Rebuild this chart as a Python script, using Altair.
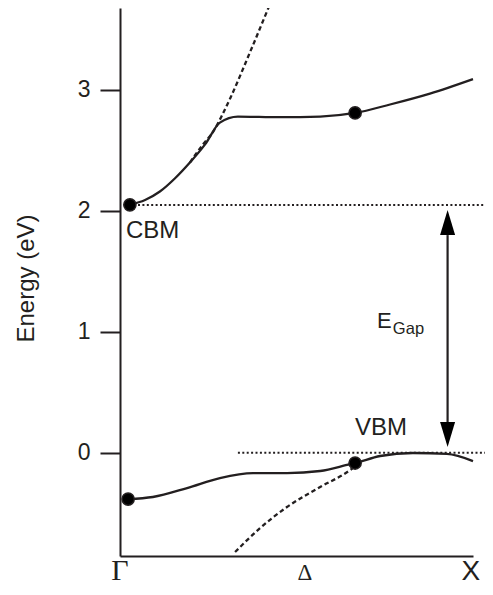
import altair as alt
import pandas as pd

# Path coordinate k: 0 = Gamma, 1 = X ; energies in eV
cb_k = [0.028, 0.071, 0.113, 0.156, 0.198, 0.241, 0.283, 0.334, 0.453, 0.567, 0.666, 0.765, 0.878, 1.000]
cb_e = [2.05, 2.09, 2.16, 2.27, 2.40, 2.55, 2.73, 2.78, 2.775, 2.78, 2.81, 2.88, 2.97, 3.09]

cb_dash_k = [0.198, 0.235, 0.263, 0.289, 0.312, 0.368, 0.422]
cb_dash_e = [2.40, 2.55, 2.65, 2.79, 2.93, 3.31, 3.69]

vb_k = [0.023, 0.093, 0.190, 0.283, 0.377, 0.473, 0.567, 0.652, 0.666, 0.737, 0.830, 0.926, 1.000]
vb_e = [-0.383, -0.366, -0.292, -0.209, -0.168, -0.168, -0.151, -0.094, -0.085, -0.027, -0.002, -0.010, -0.069]

vb_dash_k = [0.326, 0.397, 0.473, 0.567, 0.652, 0.671]
vb_dash_e = [-0.821, -0.623, -0.449, -0.284, -0.143, -0.10]

dot_k = [0.028, 0.666, 0.023, 0.666]
dot_e = [2.05, 2.81, -0.383, -0.085]

cbm_e = 2.049
vbm_e = 0.0
level_k_start = [0.051, 0.334]
level_k_end = [1.048, 1.048]
level_e = [cbm_e, vbm_e]

gap_k = 0.928

INK = "#231f20"
SANS = "Liberation Sans"
SERIF = "Liberation Serif"

xs = alt.Scale(domain=[0, 1], nice=False, zero=False)
ys = alt.Scale(domain=[-0.854, 3.678], nice=False, zero=False)

def line_df(k, e):
    return pd.DataFrame({"k": k, "E": e})

x_enc = alt.X("k:Q", scale=xs, axis=alt.Axis(domain=True, ticks=False, labels=False, grid=False,
                                               title=None, domainWidth=2, domainColor=INK))
y_enc = alt.Y("E:Q", scale=ys, axis=alt.Axis(values=[0, 1, 2, 3], format="d", grid=False,
                                               tickSize=20, tickWidth=2, tickColor=INK,
                                               domainWidth=2, domainColor=INK,
                                               labelFont=SANS, labelFontSize=23, labelColor=INK,
                                               labelPadding=10, title="Energy (eV)",
                                               titleFont=SANS, titleFontSize=24, titleFontWeight="normal",
                                               titleColor=INK, titleAngle=270, titleBaseline="alphabetic",
                                               titleAlign="center", titleX=-87, titleY=270))

cb = alt.Chart(line_df(cb_k, cb_e)).mark_line(color=INK, strokeWidth=2.3, interpolate="monotone").encode(x=x_enc, y=y_enc)
cbd = alt.Chart(line_df(cb_dash_k, cb_dash_e)).mark_line(color=INK, strokeWidth=2.3, strokeDash=[4.5, 3], interpolate="monotone").encode(x="k:Q", y="E:Q")
vb = alt.Chart(line_df(vb_k, vb_e)).mark_line(color=INK, strokeWidth=2.3, interpolate="monotone").encode(x="k:Q", y="E:Q")
vbd = alt.Chart(line_df(vb_dash_k, vb_dash_e)).mark_line(color=INK, strokeWidth=2.3, strokeDash=[4.5, 3], interpolate="monotone").encode(x="k:Q", y="E:Q")

levels = alt.Chart(pd.DataFrame({"k": level_k_start, "k2": level_k_end, "E": level_e})).mark_rule(
    color=INK, strokeWidth=2, strokeDash=[2, 2.4]).encode(x="k:Q", x2="k2:Q", y="E:Q")

shaft = alt.Chart(pd.DataFrame({"k": [gap_k], "E": [1.80], "E2": [0.25]})).mark_rule(
    color=INK, strokeWidth=2.2).encode(x="k:Q", y="E:Q", y2="E2:Q")
head_up = alt.Chart(pd.DataFrame({"k": [gap_k], "E": [1.904]})).mark_point(
    shape="M0,-1L0.6,1L-0.6,1Z", size=625, filled=True, color="black", opacity=1).encode(x="k:Q", y="E:Q")
head_dn = alt.Chart(pd.DataFrame({"k": [gap_k], "E": [0.150]})).mark_point(
    shape="M0,1L0.6,-1L-0.6,-1Z", size=625, filled=True, color="black", opacity=1).encode(x="k:Q", y="E:Q")

dots = alt.Chart(line_df(dot_k, dot_e)).mark_circle(size=150, color="black", opacity=1,
                                                     stroke=INK, strokeWidth=1.5).encode(x="k:Q", y="E:Q")

def label(text, k, e, size, font=SANS, align="left"):
    return alt.Chart(pd.DataFrame({"k": [k], "E": [e], "t": [text]})).mark_text(
        font=font, fontSize=size, align=align, baseline="alphabetic", color=INK).encode(
        x="k:Q", y="E:Q", text="t:N")

texts = [
    label("CBM", 0.017, 1.776, 24),
    label("VBM", 0.666, 0.146, 24),
    label("E", 0.728, 1.031, 22),
    label("Gap", 0.773, 0.98, 16.5),
    label("Γ", 0.0, -1.053, 30, font=SERIF, align="center"),
    label("Δ", 0.524, -1.053, 23, font=SERIF, align="center"),
    label("X", 0.994, -1.053, 28, align="center"),
]

chart = alt.layer(levels, cbd, vbd, cb, vb, shaft, head_up, head_dn, dots, *texts).properties(
    width=353, height=548,
    autosize=alt.AutoSizeParams(type="none"),
    padding={"left": 112, "top": 0, "right": 12, "bottom": 31},
).configure_view(stroke=None)

chart.save("out.html", embed_options={"renderer": "svg", "actions": False})
